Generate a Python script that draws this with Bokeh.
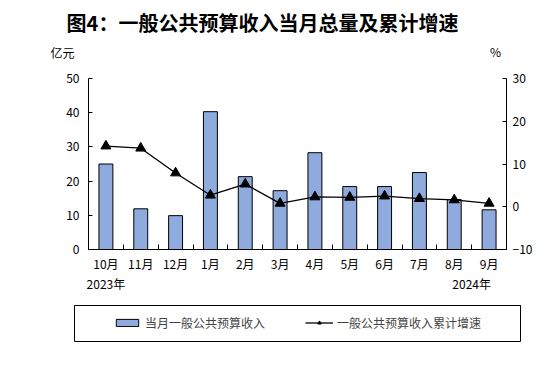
from bokeh.plotting import figure
from bokeh.layouts import column
from bokeh.models import Range1d, LinearAxis, FixedTicker, Legend, LegendItem
from bokeh.core.properties import value
from bokeh.embed import file_html
from bokeh.resources import INLINE

months = ["10月", "11月", "12月", "1月", "2月", "3月", "4月", "5月", "6月", "7月", "8月", "9月"]
monthly_revenue = [25.0, 11.9, 9.9, 40.3, 21.3, 17.2, 28.3, 18.4, 18.4, 22.5, 14.6, 11.6]
cumulative_growth = [14.2, 13.7, 7.9, 2.7, 5.3, 0.8, 2.3, 2.2, 2.5, 1.9, 1.6, 0.8]
left_ticks = [0, 10, 20, 30, 40, 50]
right_ticks = [-10, 0, 10, 20, 30]
year_labels = ["2023年", "2024年"]
title_text = "图4：一般公共预算收入当月总量及累计增速"
left_unit = "亿元"
right_unit = "%"
bar_name = "当月一般公共预算收入"
line_name = "一般公共预算收入累计增速"

FONT = "Noto Sans CJK SC"
BAR_COLOR = "#8FAADC"
W = 552
TOP_H = 70
MAIN_H = 227
LEG_H = 85

n = len(months)
xs = [i + 0.5 for i in range(n)]


def blank_strip(h, xr, yr, left=0, right=0, top=0, bottom=0):
    f = figure(width=W, height=h, output_backend="svg", toolbar_location=None,
               x_range=xr, y_range=yr, x_axis_type=None, y_axis_type=None,
               min_border=0, min_border_left=left, min_border_right=right,
               min_border_top=top, min_border_bottom=bottom, frame_align=False)
    f.outline_line_color = None
    f.grid.visible = False
    return f


# ---------- header strip (title and unit labels) ----------
top = blank_strip(TOP_H, Range1d(0, W), Range1d(TOP_H, 0))
top.text(x=[262], y=[22], text=[title_text], text_font=value(FONT),
         text_font_size="20px", text_font_style="bold", text_align="center",
         text_baseline="middle", text_color="black")
top.text(x=[50], y=[52], text=[left_unit], text_font=value(FONT),
         text_font_size="12px", text_align="left", text_baseline="middle",
         text_color="black")
top.text(x=[495], y=[51], text=[right_unit], text_font=value(FONT),
         text_font_size="12px", text_align="center", text_baseline="middle",
         text_color="black")

# ---------- main chart ----------
p = figure(width=W, height=MAIN_H, output_backend="svg", toolbar_location=None,
           x_range=Range1d(0, n), y_range=Range1d(0, 50),
           min_border_left=88, min_border_right=46, min_border_top=8,
           min_border_bottom=48, frame_align=False)
p.extra_y_ranges = {"pct": Range1d(-10, 30)}
p.outline_line_color = None
p.xgrid.visible = False
p.ygrid.visible = False

bars = p.vbar(x=xs, top=monthly_revenue, bottom=0, width=0.4,
              fill_color=BAR_COLOR, line_color="black", line_width=1)
line = p.line(xs, cumulative_growth, y_range_name="pct", line_color="black", line_width=1.3)
pts = p.scatter(xs, cumulative_growth, y_range_name="pct", marker="triangle",
                size=10, fill_color="black", line_color="black")


def style_axis(ax, standoff):
    ax.axis_line_color = "black"
    ax.major_label_standoff = standoff
    ax.major_label_text_font = FONT
    ax.major_label_text_font_size = "12px"
    ax.major_label_text_color = "black"


# bottom axis: month labels at centres, ticks at category boundaries
xa = p.xaxis[0]
xa.ticker = FixedTicker(ticks=xs, minor_ticks=list(range(n + 1)))
xa.major_label_overrides = {x: m for x, m in zip(xs, months)}
xa.major_tick_in = 0
xa.major_tick_out = 0
xa.minor_tick_in = 5
xa.minor_tick_out = 0
xa.minor_tick_line_color = "black"
style_axis(xa, 5)

# year row below the months
year_pos = [xs[0], xs[-1] - 0.5]
ya2 = LinearAxis(ticker=FixedTicker(ticks=year_pos, minor_ticks=[]))
ya2.major_label_overrides = {x: t for x, t in zip(year_pos, year_labels)}
ya2.major_tick_line_color = None
ya2.minor_tick_line_color = None
ya2.major_tick_in = 0
ya2.major_tick_out = 0
style_axis(ya2, 0)
ya2.axis_line_color = None
p.add_layout(ya2, "below")

# left axis
ya = p.yaxis[0]
ya.ticker = FixedTicker(ticks=left_ticks)
ya.major_tick_in = 4
ya.major_tick_out = 0
ya.minor_tick_line_color = None
style_axis(ya, 9)

# right axis
ra = LinearAxis(y_range_name="pct", ticker=FixedTicker(ticks=right_ticks))
ra.major_tick_in = 4
ra.major_tick_out = 0
ra.minor_tick_line_color = None
style_axis(ra, 6)
p.add_layout(ra, "right")

# ---------- legend strip ----------
# The strip's frame outline forms the legend box. The same series are drawn
# here far outside the visible window; only their legend swatches show.
leg = blank_strip(LEG_H, Range1d(-100, -99), Range1d(-2, -1),
                  left=74, right=32, top=8, bottom=41)
leg.outline_line_color = "black"
leg.outline_line_width = 1
lb = leg.vbar(x=xs, top=monthly_revenue, bottom=0, width=0.4,
              fill_color=BAR_COLOR, line_color="black", line_width=1)
ll = leg.line(xs, cumulative_growth, line_color="black", line_width=1.3)
lp = leg.scatter(xs, cumulative_growth, marker="triangle", size=10,
                 fill_color="black", line_color="black")
legend = Legend(items=[LegendItem(label=bar_name, renderers=[lb]),
                       LegendItem(label=line_name, renderers=[ll, lp])],
                orientation="horizontal", location=(39, 10),
                padding=0, spacing=10, margin=0,
                glyph_width=28, glyph_height=9, label_height=16, label_width=150,
                label_standoff=4,
                label_text_font=FONT, label_text_font_size="12px",
                border_line_color=None, background_fill_alpha=0)
leg.add_layout(legend)

layout = column(top, p, leg)
open("out.html", "w").write(file_html(layout, INLINE))
